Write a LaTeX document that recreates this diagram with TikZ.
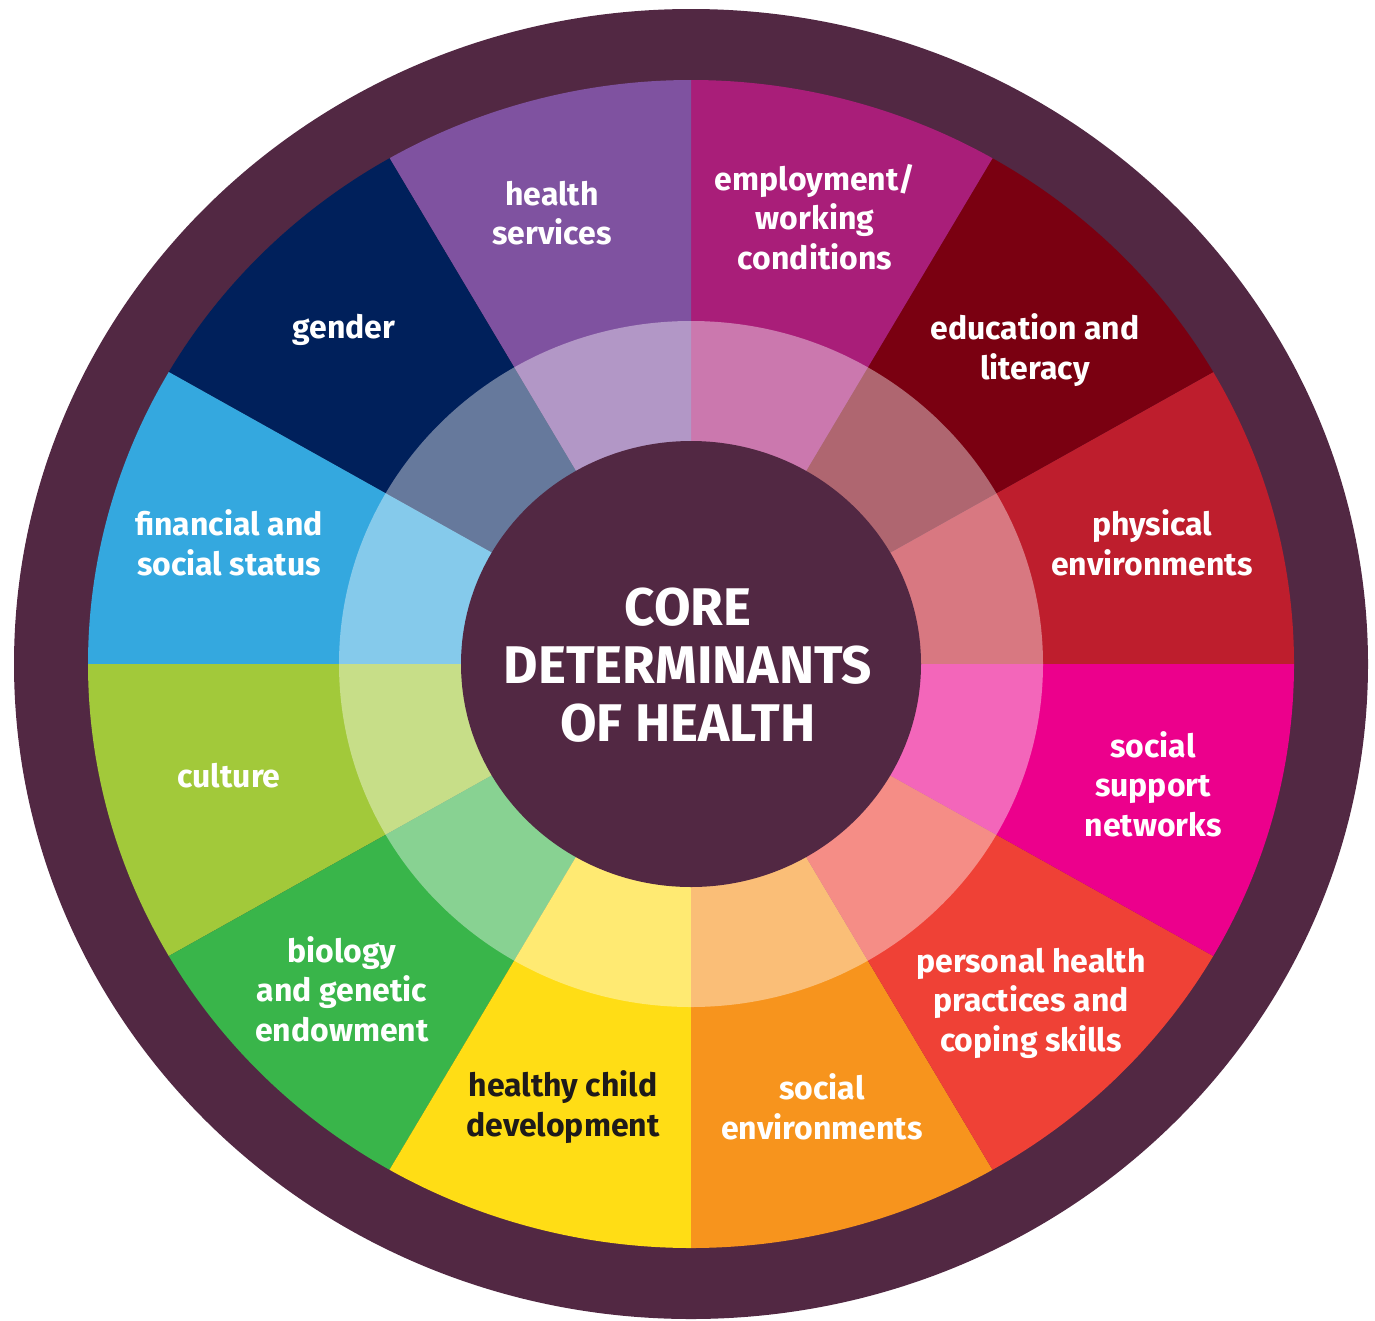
\documentclass[tikz,border=0pt]{standalone}
\usepackage{fontspec}
\setmainfont{Fira Sans}
\definecolor{plum}{HTML}{522843}
\definecolor{cPhys}{HTML}{BE1E2D}
\definecolor{cEdu}{HTML}{7A0011}
\definecolor{cEmp}{HTML}{A91E79}
\definecolor{cHS}{HTML}{7F52A0}
\definecolor{cGen}{HTML}{00205B}
\definecolor{cFin}{HTML}{34A8DF}
\definecolor{cCul}{HTML}{A2C93A}
\definecolor{cBio}{HTML}{39B54A}
\definecolor{cHCD}{HTML}{FFDD15}
\definecolor{cSE}{HTML}{F7941D}
\definecolor{cPHP}{HTML}{EF4136}
\definecolor{cSSN}{HTML}{EC008C}
\definecolor{darktext}{HTML}{1E1A1A}
\tikzset{
  lab/.style={align=center, text=white, font=\bfseries\fontsize{32}{39.5}\selectfont, inner sep=0pt},
  darklab/.style={lab, text=darktext},
  titlelab/.style={align=center, text=white, font=\bfseries\fontsize{53}{58}\selectfont, inner sep=0pt},
}
\newcommand{\mysector}[2]{\fill[#2] (0,0) -- (#1:603pt and 584pt) arc[start angle=#1, delta angle=30, x radius=603pt, y radius=584pt] -- cycle;}
\begin{document}
\begin{tikzpicture}[x=1pt,y=1pt]
\useasboundingbox (0,-1320) rectangle (1375,0);
\begin{scope}[shift={(691,-664)}]
  \fill[plum] (0,0) ellipse[x radius=677pt, y radius=655pt];
  \mysector{0}{cPhys}
  \mysector{30}{cEdu}
  \mysector{60}{cEmp}
  \mysector{90}{cHS}
  \mysector{120}{cGen}
  \mysector{150}{cFin}
  \mysector{180}{cCul}
  \mysector{210}{cBio}
  \mysector{240}{cHCD}
  \mysector{270}{cSE}
  \mysector{300}{cPHP}
  \mysector{330}{cSSN}
  \fill[white, opacity=0.4] (0,0) ellipse[x radius=352pt, y radius=343pt];
  \fill[plum] (0,0) ellipse[x radius=230pt, y radius=223pt];
\end{scope}
\node[titlelab] (title) at (688,-665) {CORE\\DETERMINANTS\\OF HEALTH};
\node[lab] (hs) at (552,-213) {health\\services};
\node[lab] (emp) at (815,-217) {employment/\\working\\conditions};
\node[lab] (edu) at (1035,-350) {education and\\literacy};
\node[lab] (phys) at (1152,-543) {physical\\environments};
\node[lab] (ssn) at (1153,-784) {social\\support\\networks};
\node[lab] (php) at (1031,-1003) {personal health\\practices and\\coping skills};
\node[lab] (se) at (822,-1107) {social\\environments};
\node[darklab] (hcd) at (563,-1107) {healthy child\\development};
\node[lab] (bio) at (342,-989) {biology\\and genetic\\endowment};
\node[lab] (cul) at (229,-776) {culture};
\node[lab] (fin) at (229,-543) {financial and\\social status};
\node[lab] (gen) at (344,-330) {gender};
\end{tikzpicture}
\end{document}
